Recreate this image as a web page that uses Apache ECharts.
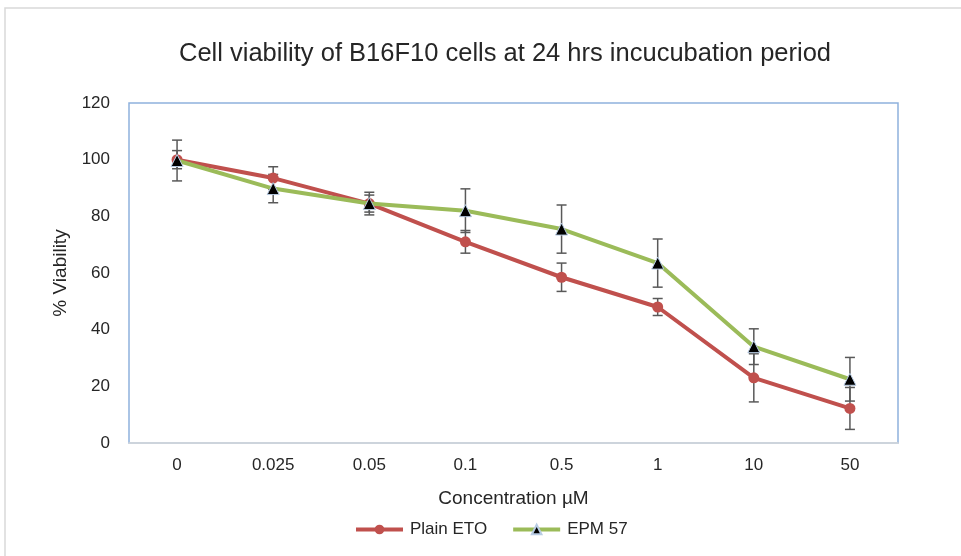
<!DOCTYPE html>
<html>
<head>
<meta charset="utf-8">
<script src="https://cdn.jsdelivr.net/npm/echarts@6/dist/echarts.min.js"></script>
<style>html,body{margin:0;padding:0;background:#fff}#c{width:961px;height:556px}</style>
</head>
<body>
<div id="c"></div>
<script>
const categories = ['0', '0.025', '0.05', '0.1', '0.5', '1', '10', '50'];
const etoMean = [100, 93.5, 84.5, 71, 58.5, 48, 23, 12.2];
const etoErr  = [3.2, 4, 3, 4, 5, 3, 8.5, 7.4];
const epmMean = [99.7, 89.8, 84.5, 82, 75.5, 63.5, 34, 22.5];
const epmErr  = [7.2, 5, 4, 7.7, 8.5, 8.5, 6.3, 7.7];
const yTicks = [0, 20, 40, 60, 80, 100, 120];

const FONT = 'Liberation Sans';
const TXT = '#262626';
const chart = echarts.init(document.getElementById('c'), null, {renderer: 'canvas'});

function errData(mean, err) {
  return mean.map((m, i) => [i, m - err[i], m + err[i]]);
}
function errRender(params, api) {
  const x = api.value(0);
  const lo = api.coord([x, api.value(1)]);
  const hi = api.coord([x, api.value(2)]);
  const cw = 5;
  const style = {stroke: '#595959', lineWidth: 1.5, fill: null};
  return {
    type: 'group',
    children: [
      {type: 'line', shape: {x1: lo[0], y1: lo[1], x2: hi[0], y2: hi[1]}, style},
      {type: 'line', shape: {x1: lo[0] - cw, y1: lo[1], x2: lo[0] + cw, y2: lo[1]}, style},
      {type: 'line', shape: {x1: hi[0] - cw, y1: hi[1], x2: hi[0] + cw, y2: hi[1]}, style}
    ]
  };
}

chart.setOption({
  animation: false,
  backgroundColor: '#fff',
  title: {
    text: 'Cell viability of B16F10 cells at 24 hrs incucubation period',
    left: 174, top: 36,
    textStyle: {fontFamily: FONT, fontSize: 25.5, fontWeight: 'normal', color: TXT}
  },
  graphic: [{
    type: 'rect', shape: {x: 5, y: 8, width: 1000, height: 600},
    style: {fill: null, stroke: '#d9d9d9', lineWidth: 1.5}, silent: true, z: -1
  }],
  legend: {
    top: 516, left: 349, itemGap: 24, itemWidth: 47, itemHeight: 12,
    data: ['Plain ETO', 'EPM 57'],
    lineStyle: {width: 4},
    textStyle: {fontFamily: FONT, fontSize: 17, color: TXT, padding: [0, 0, 0, 2]}
  },
  grid: {
    left: 129, top: 103, right: 63, bottom: 113,
    show: true, borderColor: '#8eb1dd', borderWidth: 1.5, backgroundColor: 'transparent'
  },
  xAxis: {
    type: 'category', data: categories, boundaryGap: true,
    name: 'Concentration µM', nameLocation: 'middle', nameGap: 46,
    nameTextStyle: {fontFamily: FONT, fontSize: 19, color: TXT},
    axisLine: {show: true, lineStyle: {color: '#d9d9d9', width: 1.5}},
    axisTick: {show: false},
    axisLabel: {fontFamily: FONT, fontSize: 17, color: TXT, margin: 14}
  },
  yAxis: {
    type: 'value', min: yTicks[0], max: yTicks[yTicks.length - 1], interval: 20,
    name: '% Viability', nameLocation: 'middle', nameGap: 54, nameRotate: 90,
    nameTextStyle: {fontFamily: FONT, fontSize: 19, color: TXT},
    axisLine: {show: false}, axisTick: {show: false}, splitLine: {show: false},
    axisLabel: {fontFamily: FONT, fontSize: 17, color: TXT, margin: 19}
  },
  series: [
    {
      type: 'custom', name: 'etoErr', renderItem: errRender, data: errData(etoMean, etoErr), z: 1,
      encode: {x: 0, y: [1, 2]}
    },
    {
      type: 'custom', name: 'epmErr', renderItem: errRender, data: errData(epmMean, epmErr), z: 1,
      encode: {x: 0, y: [1, 2]}
    },
    {
      type: 'line', name: 'Plain ETO', data: etoMean, z: 2,
      symbol: 'circle', symbolSize: 11,
      lineStyle: {color: '#c0504d', width: 4},
      itemStyle: {color: '#c0504d'}
    },
    {
      type: 'line', name: 'EPM 57', data: epmMean, z: 3,
      symbol: 'triangle', symbolSize: 12,
      lineStyle: {color: '#9bbb59', width: 4},
      itemStyle: {color: '#000', borderColor: '#b8cce4', borderWidth: 1}
    }
  ]
});
</script>
</body>
</html>
